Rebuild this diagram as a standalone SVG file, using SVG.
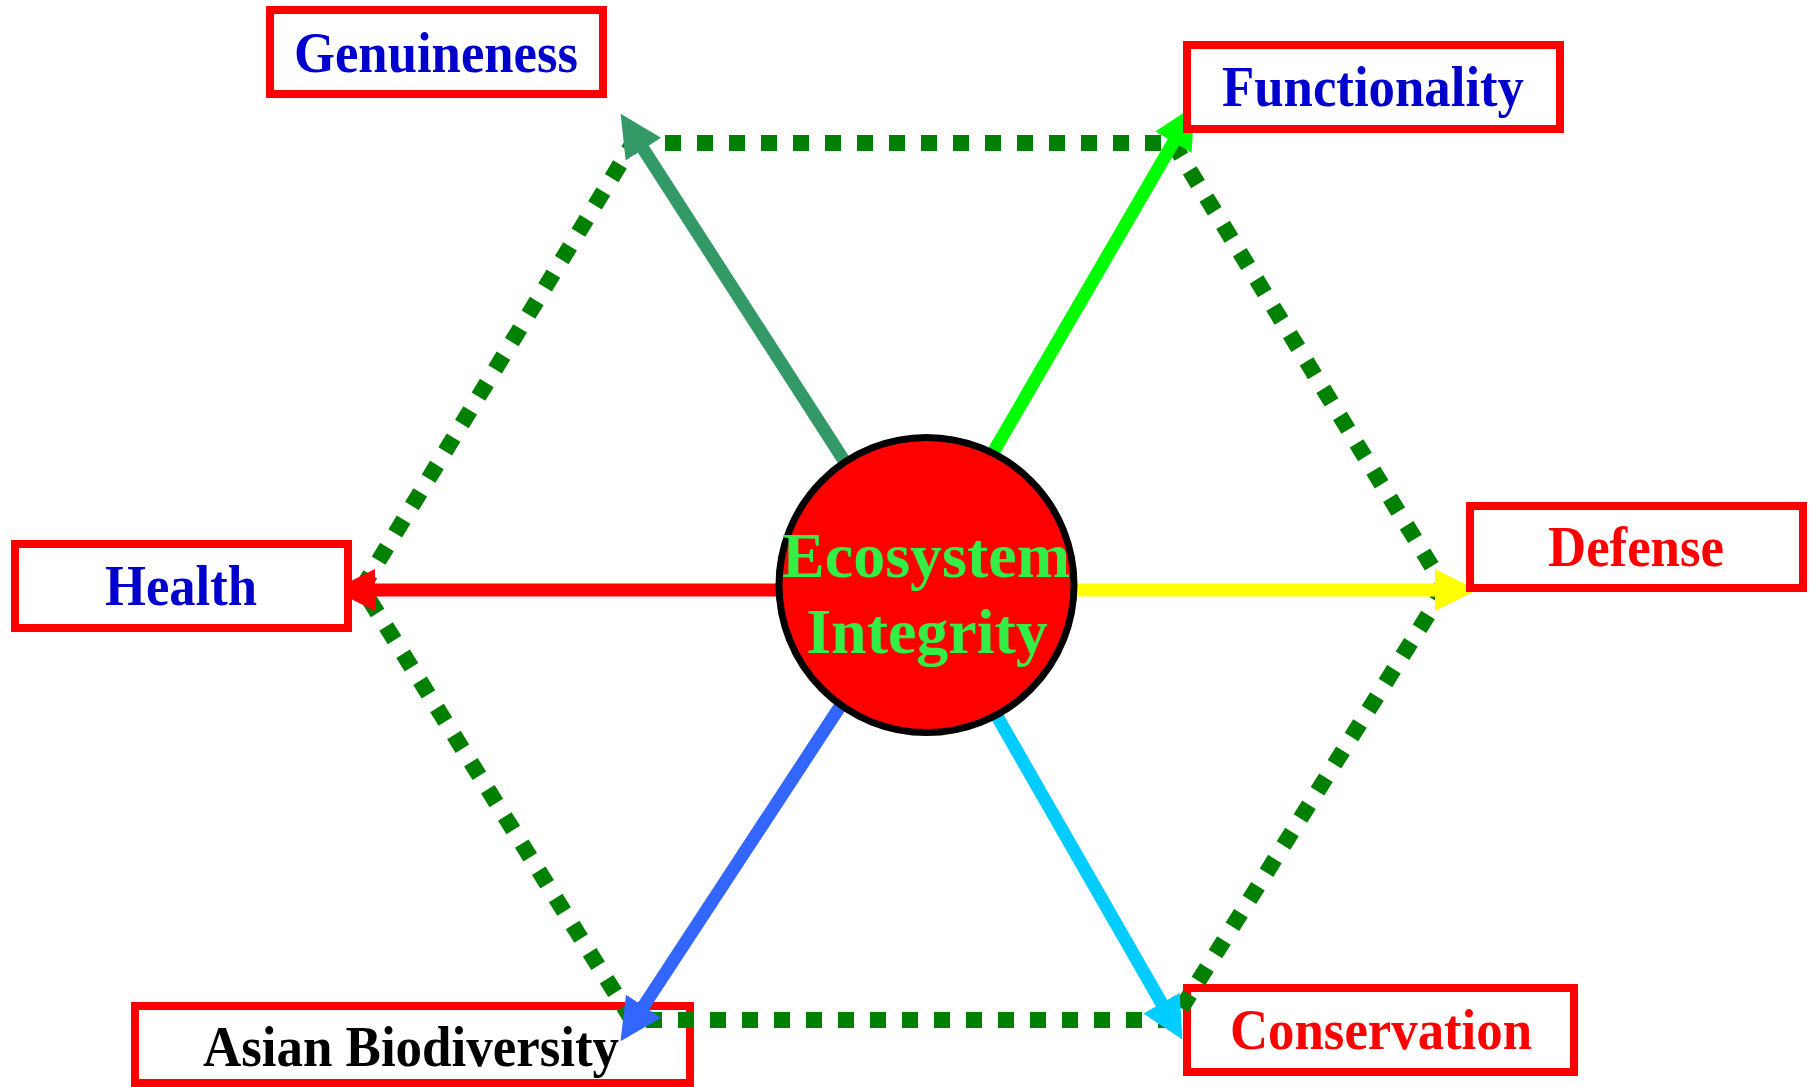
<svg xmlns="http://www.w3.org/2000/svg" width="1812" height="1087" viewBox="0 0 1812 1087">
<style>
.box{fill:#ffffff;stroke:#ff0000;stroke-width:8}
.lbl{font-family:"Liberation Serif","Times New Roman",serif;font-weight:bold;font-size:56px;text-anchor:middle}
.blue{fill:#0000cc}
.red{fill:#ff0000}
.black{fill:#000000}
.dot{stroke:#008000;stroke-width:16;stroke-dasharray:16 16;fill:none}
.spoke{stroke-width:13;fill:none}
.ctext{font-family:"Liberation Serif","Times New Roman",serif;font-weight:bold;font-size:64px;text-anchor:middle;fill:#33ee44}
</style>
<defs>
<marker id="mGen" markerUnits="userSpaceOnUse" markerWidth="42" markerHeight="42" viewBox="0 0 42 42" refX="1" refY="21" orient="auto"><path d="M0,0 L42,21 L0,42 z" fill="#339966"/></marker>
<marker id="mFun" markerUnits="userSpaceOnUse" markerWidth="42" markerHeight="42" viewBox="0 0 42 42" refX="1" refY="21" orient="auto"><path d="M0,0 L42,21 L0,42 z" fill="#00ff00"/></marker>
<marker id="mHea" markerUnits="userSpaceOnUse" markerWidth="42" markerHeight="42" viewBox="0 0 42 42" refX="1" refY="21" orient="auto"><path d="M0,0 L42,21 L0,42 z" fill="#ff0000"/></marker>
<marker id="mDef" markerUnits="userSpaceOnUse" markerWidth="42" markerHeight="42" viewBox="0 0 42 42" refX="1" refY="21" orient="auto"><path d="M0,0 L42,21 L0,42 z" fill="#ffff00"/></marker>
<marker id="mCon" markerUnits="userSpaceOnUse" markerWidth="42" markerHeight="42" viewBox="0 0 42 42" refX="1" refY="21" orient="auto"><path d="M0,0 L42,21 L0,42 z" fill="#00ccff"/></marker>
<marker id="mAsi" markerUnits="userSpaceOnUse" markerWidth="42" markerHeight="42" viewBox="0 0 42 42" refX="1" refY="21" orient="auto"><path d="M0,0 L42,21 L0,42 z" fill="#3366ff"/></marker>
</defs>
<rect width="1812" height="1087" fill="#ffffff"/>

<g id="node-conservation">
<rect class="box" x="1187" y="988" width="387" height="84"/>
<text class="lbl red" x="1381" y="1049" textLength="302" lengthAdjust="spacingAndGlyphs">Conservation</text>
</g>
<g id="node-asian-biodiversity">
<rect class="box" x="135" y="1006" width="555" height="77"/>
<text class="lbl black" x="411" y="1066" textLength="416" lengthAdjust="spacingAndGlyphs">Asian Biodiversity</text>
</g>

<g id="connectors">
<g id="hexagon">
<line class="dot" x1="633" y1="143" x2="1173" y2="143"/>
<line class="dot" x1="1173" y1="143" x2="1445" y2="588"/>
<line class="dot" x1="1445" y1="588" x2="1174" y2="1020"/>
<line class="dot" x1="1174" y1="1020" x2="632" y2="1020"/>
<line class="dot" x1="632" y1="1020" x2="362" y2="588"/>
<line class="dot" x1="362" y1="588" x2="633" y2="143"/>
</g>
<g id="spokes">
<line class="spoke" stroke="#339966" x1="872" y1="504" x2="642.8" y2="148.3" marker-end="url(#mGen)"/>
<line class="spoke" stroke="#00ff00" x1="962" y1="506" x2="1173.9" y2="141.3" marker-end="url(#mFun)"/>
<line class="spoke" stroke="#ff0000" x1="800" y1="590" x2="374" y2="590" marker-end="url(#mHea)"/>
<line class="spoke" stroke="#ffff00" x1="1050" y1="590" x2="1436" y2="590" marker-end="url(#mDef)"/>
<line class="spoke" stroke="#00ccff" x1="955" y1="643" x2="1162" y2="1004" marker-end="url(#mCon)"/>
<line class="spoke" stroke="#3366ff" x1="883" y1="641" x2="643" y2="1007" marker-end="url(#mAsi)"/>
</g>
</g>

<g id="node-genuineness">
<rect class="box" x="270" y="10" width="333" height="84"/>
<text class="lbl blue" x="436" y="72" textLength="284" lengthAdjust="spacingAndGlyphs">Genuineness</text>
</g>
<g id="node-functionality">
<rect class="box" x="1187" y="45" width="373" height="84"/>
<text class="lbl blue" x="1373" y="106" textLength="302" lengthAdjust="spacingAndGlyphs">Functionality</text>
</g>
<g id="node-health">
<rect class="box" x="15" y="544" width="333" height="84"/>
<text class="lbl blue" x="181" y="605" textLength="152" lengthAdjust="spacingAndGlyphs">Health</text>
</g>
<g id="node-defense">
<rect class="box" x="1470" y="506" width="333" height="82"/>
<text class="lbl red" x="1636" y="566" textLength="176" lengthAdjust="spacingAndGlyphs">Defense</text>
</g>

<g id="node-ecosystem-integrity">
<circle cx="926.5" cy="585" r="147.5" fill="#ff0000" stroke="#000000" stroke-width="7"/>
<text class="ctext" x="926" y="577">Ecosystem</text>
<text class="ctext" x="927" y="653">Integrity</text>
</g>
</svg>
